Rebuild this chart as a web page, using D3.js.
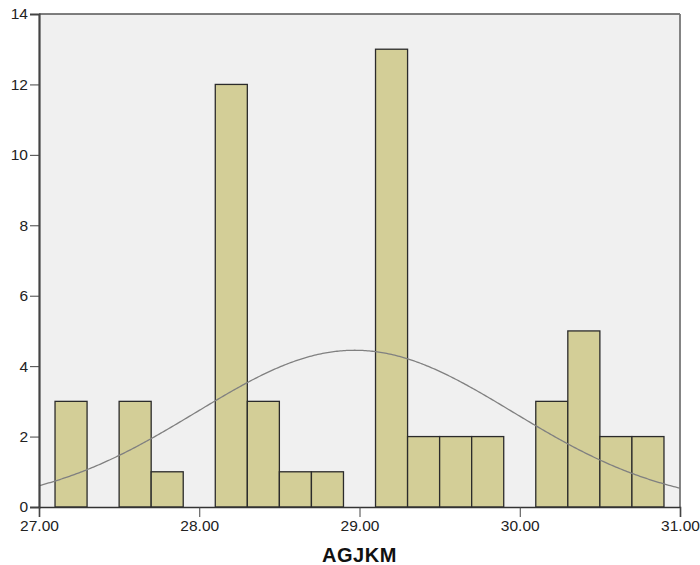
<!DOCTYPE html>
<html><head><meta charset="utf-8">
<script src="https://cdn.jsdelivr.net/npm/d3@7"></script>
<style>body{margin:0;background:#fff;}svg{display:block;}</style>
</head><body>
<svg id="c" width="700" height="565"></svg>
<script>
const binStarts = [27.1,27.3,27.5,27.7,27.9,28.1,28.3,28.5,28.7,28.9,29.1,29.3,29.5,29.7,29.9,30.1,30.3,30.5,30.7];
const counts    = [3,0,3,1,0,12,3,1,1,0,13,2,2,2,0,3,5,2,2];
const binWidth = 0.2;
const xTicks = [27,28,29,30,31];
const yTicks = [0,2,4,6,8,10,12,14];
const curveMean = 28.97, curveSd = 0.986;
const axisTitle = "AGJKM";

const svg = d3.select("#c");
const L=39, R=680, T=14, B=507;
const x = d3.scaleLinear().domain([27,31]).range([L,R]);
const y = d3.scaleLinear().domain([0,14]).range([B,T]);

svg.append("rect").attr("x",L).attr("y",T).attr("width",R-L).attr("height",B-T).attr("fill","#f0f0f0");

const bins = binStarts.map((s,i)=>({s, c:counts[i]})).filter(d=>d.c>0);
svg.append("g").selectAll("rect").data(bins).join("rect")
  .attr("x",d=>x(d.s)).attr("y",d=>y(d.c))
  .attr("width",d=>x(d.s+binWidth)-x(d.s)).attr("height",d=>B-y(d.c))
  .attr("fill","#d3ce97").attr("stroke","#2b2b2b").attr("stroke-width",1.3);

const n = d3.sum(counts);
const pts = d3.range(0,401).map(i=>27+i*0.01);
const dens = v => n*binWidth/(curveSd*Math.sqrt(2*Math.PI))*Math.exp(-((v-curveMean)**2)/(2*curveSd*curveSd));
svg.append("path").datum(pts)
  .attr("d", d3.line().x(v=>x(v)).y(v=>y(dens(v))))
  .attr("fill","none").attr("stroke","#808080").attr("stroke-width",1.3);

// frame
svg.append("line").attr("x1",L).attr("x2",R).attr("y1",T).attr("y2",T).attr("stroke","#555").attr("stroke-width",1.5);
svg.append("line").attr("x1",R).attr("x2",R).attr("y1",T).attr("y2",B).attr("stroke","#777").attr("stroke-width",1.8);

const yAxis = svg.append("g").attr("transform",`translate(${L},0)`)
  .call(d3.axisLeft(y).tickValues(yTicks).tickSize(9).tickPadding(2).tickFormat(d3.format("d")));
yAxis.select(".domain").attr("stroke","#444").attr("stroke-width",2.2);
yAxis.selectAll(".tick line").attr("stroke","#444");
yAxis.selectAll("text").attr("font-family","Arial, Liberation Sans, sans-serif").attr("font-size",15.5).attr("fill","#222");

const xAxis = svg.append("g").attr("transform",`translate(0,${B})`)
  .call(d3.axisBottom(x).tickValues(xTicks).tickSize(10).tickPadding(3).tickFormat(d3.format(".2f")));
xAxis.select(".domain").attr("stroke","#333").attr("stroke-width",1.6);
xAxis.selectAll(".tick line").attr("stroke","#444");
xAxis.selectAll("text").attr("font-family","Arial, Liberation Sans, sans-serif").attr("font-size",15.5).attr("fill","#222");

svg.append("text").attr("x",(L+R)/2).attr("y",562).attr("text-anchor","middle")
  .attr("font-family","Arial, Liberation Sans, sans-serif").attr("font-weight","bold").attr("font-size",20).attr("letter-spacing",0.6).attr("fill","#111")
  .text(axisTitle);
</script>
</body></html>
